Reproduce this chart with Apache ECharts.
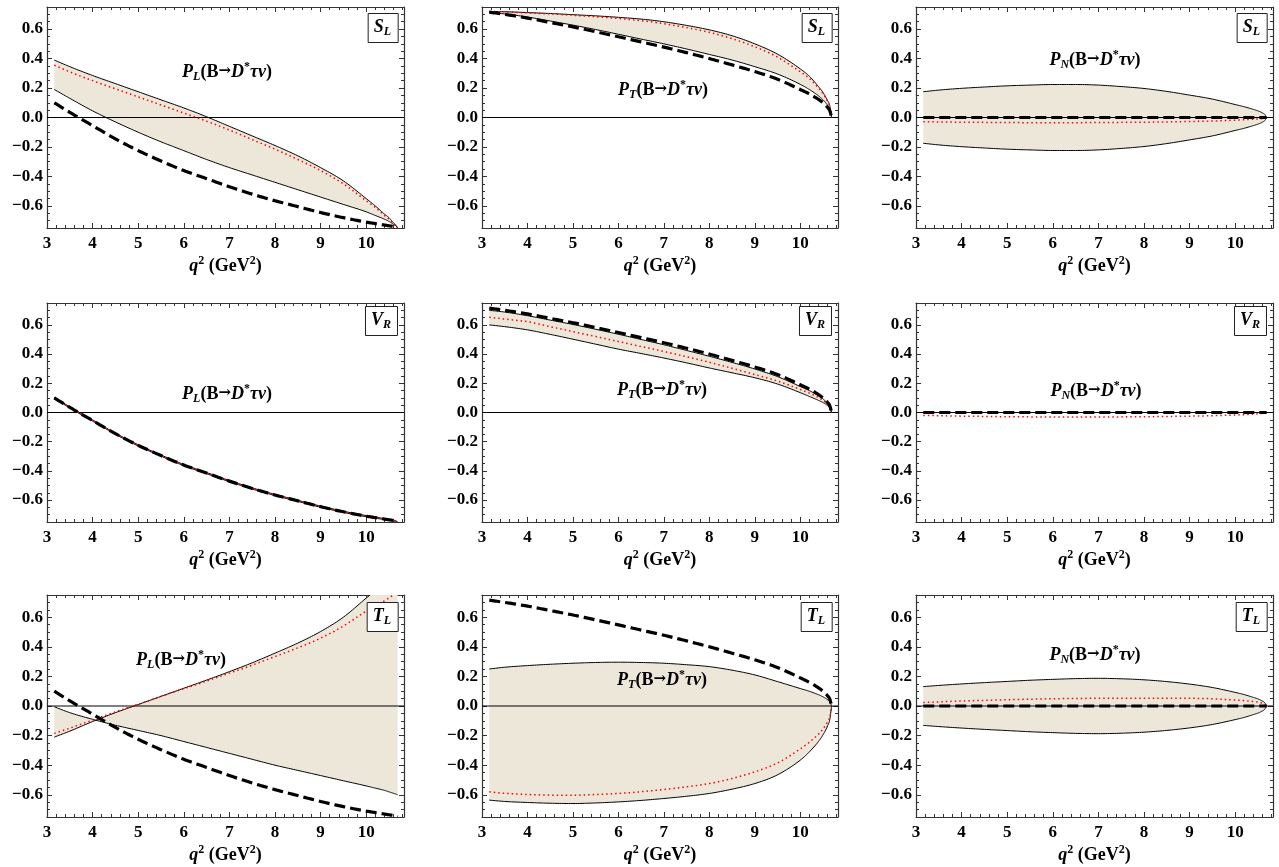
<!DOCTYPE html>
<html><head><meta charset="utf-8">
<script src="https://cdn.jsdelivr.net/npm/echarts@6/dist/echarts.min.js"></script>
<style>html,body{margin:0;padding:0;background:#fff}#c{width:1279px;height:867px}</style>
</head><body><div id="c"></div>
<script>
// ---------------- data ----------------
const q2 = [3.16, 3.5, 4, 4.5, 5, 5.5, 6, 6.5, 7, 7.5, 8, 8.5, 9, 9.5, 10, 10.2, 10.4, 10.5, 10.6, 10.65, 10.69];
const xTicks = [3, 4, 5, 6, 7, 8, 9, 10];
const yTicks = [-0.6, -0.4, -0.2, 0.0, 0.2, 0.4, 0.6];

// Standard-model curves (thick dashed)
const smPL = [0.10, 0.035, -0.055, -0.145, -0.225, -0.295, -0.36, -0.415, -0.47, -0.52, -0.565, -0.605, -0.645, -0.68, -0.71, -0.72, -0.73, -0.735, -0.74, -0.745, -0.75];
const smPT = [0.715, 0.70, 0.675, 0.645, 0.615, 0.582, 0.548, 0.513, 0.478, 0.44, 0.40, 0.357, 0.312, 0.26, 0.19, 0.16, 0.123, 0.10, 0.069, 0.046, 0.0];
const smPN = [0, 0, 0, 0, 0, 0, 0, 0, 0, 0, 0, 0, 0, 0, 0, 0, 0, 0, 0, 0, 0];

// S_L coupling
const slPLUpper = [0.39, 0.345, 0.285, 0.23, 0.175, 0.12, 0.065, 0.005, -0.06, -0.125, -0.19, -0.26, -0.34, -0.43, -0.55, -0.60, -0.655, -0.68, -0.715, -0.73, -0.75];
const slPLLower = [0.19, 0.13, 0.045, -0.03, -0.10, -0.165, -0.225, -0.285, -0.34, -0.39, -0.44, -0.49, -0.54, -0.59, -0.64, -0.665, -0.69, -0.705, -0.725, -0.735, -0.75];
const slPLCentral = [0.355, 0.31, 0.25, 0.195, 0.14, 0.085, 0.03, -0.025, -0.085, -0.15, -0.215, -0.285, -0.36, -0.45, -0.565, -0.61, -0.665, -0.69, -0.72, -0.735, -0.75];

const slPTUpper = [0.72, 0.718, 0.712, 0.706, 0.698, 0.69, 0.68, 0.668, 0.65, 0.625, 0.595, 0.555, 0.50, 0.43, 0.33, 0.28, 0.21, 0.17, 0.115, 0.08, 0.0];
const slPTLower = [0.712, 0.703, 0.682, 0.655, 0.627, 0.597, 0.565, 0.532, 0.50, 0.465, 0.428, 0.39, 0.345, 0.295, 0.225, 0.19, 0.147, 0.12, 0.083, 0.056, 0.0];
const slPTCentral = [0.72, 0.717, 0.71, 0.703, 0.694, 0.684, 0.672, 0.657, 0.637, 0.61, 0.578, 0.535, 0.48, 0.41, 0.31, 0.265, 0.20, 0.162, 0.11, 0.075, 0.0];

const slPNUpper = [0.175, 0.186, 0.198, 0.207, 0.215, 0.22, 0.224, 0.224, 0.22, 0.21, 0.197, 0.177, 0.152, 0.125, 0.088, 0.073, 0.055, 0.045, 0.031, 0.021, 0.0];
const slPNLower = [-0.175, -0.186, -0.198, -0.207, -0.215, -0.22, -0.224, -0.224, -0.22, -0.21, -0.197, -0.177, -0.152, -0.125, -0.088, -0.073, -0.055, -0.045, -0.031, -0.021, 0.0];
const slPNCentral = [-0.028, -0.03, -0.032, -0.033, -0.034, -0.035, -0.035, -0.035, -0.034, -0.033, -0.032, -0.03, -0.027, -0.024, -0.018, -0.015, -0.012, -0.01, -0.007, -0.004, 0.0];

// V_R coupling
const vrPLUpper = [0.104, 0.039, -0.051, -0.141, -0.221, -0.291, -0.356, -0.411, -0.466, -0.516, -0.561, -0.601, -0.641, -0.676, -0.706, -0.716, -0.727, -0.732, -0.737, -0.742, -0.747];
const vrPLLower = [0.096, 0.031, -0.059, -0.149, -0.229, -0.299, -0.364, -0.419, -0.474, -0.524, -0.569, -0.609, -0.649, -0.684, -0.714, -0.724, -0.733, -0.738, -0.743, -0.748, -0.753];
const vrPLCentral = [0.10, 0.035, -0.055, -0.145, -0.225, -0.295, -0.36, -0.415, -0.47, -0.52, -0.565, -0.605, -0.645, -0.68, -0.71, -0.72, -0.73, -0.735, -0.74, -0.745, -0.75];

const vrPTUpper = [0.70, 0.688, 0.663, 0.633, 0.603, 0.57, 0.536, 0.50, 0.464, 0.425, 0.385, 0.343, 0.298, 0.246, 0.178, 0.15, 0.115, 0.093, 0.064, 0.043, 0.0];
const vrPTLower = [0.60, 0.588, 0.566, 0.535, 0.502, 0.468, 0.434, 0.404, 0.373, 0.34, 0.305, 0.272, 0.238, 0.195, 0.136, 0.11, 0.083, 0.068, 0.047, 0.031, 0.0];
const vrPTCentral = [0.652, 0.64, 0.622, 0.588, 0.554, 0.52, 0.486, 0.452, 0.418, 0.382, 0.344, 0.303, 0.26, 0.215, 0.158, 0.133, 0.102, 0.083, 0.057, 0.038, 0.0];

const vrPNUpper = [0, 0, 0, 0, 0, 0, 0, 0, 0, 0, 0, 0, 0, 0, 0, 0, 0, 0, 0, 0, 0];
const vrPNLower = [0, 0, 0, 0, 0, 0, 0, 0, 0, 0, 0, 0, 0, 0, 0, 0, 0, 0, 0, 0, 0];
const vrPNCentral = [-0.02, -0.022, -0.025, -0.027, -0.029, -0.03, -0.031, -0.031, -0.031, -0.03, -0.029, -0.027, -0.025, -0.022, -0.017, -0.015, -0.011, -0.009, -0.006, -0.004, 0.0];

// T_L coupling
const tlPLUpper = [-0.21, -0.17, -0.105, -0.045, 0.01, 0.065, 0.12, 0.175, 0.232, 0.292, 0.357, 0.425, 0.503, 0.60, 0.729, 0.78, 0.84, 0.87, 0.90, 0.92, 0.93];
const tlPLLower = [-0.005, -0.045, -0.09, -0.13, -0.165, -0.20, -0.24, -0.28, -0.32, -0.36, -0.40, -0.435, -0.47, -0.505, -0.54, -0.555, -0.57, -0.58, -0.59, -0.595, -0.60];
const tlPLCentral = [-0.185, -0.15, -0.095, -0.04, 0.012, 0.065, 0.117, 0.168, 0.222, 0.276, 0.334, 0.393, 0.458, 0.54, 0.64, 0.675, 0.71, 0.73, 0.75, 0.76, 0.77];

const tlPTUpper = [0.25, 0.262, 0.273, 0.282, 0.289, 0.294, 0.296, 0.294, 0.289, 0.279, 0.266, 0.242, 0.21, 0.165, 0.118, 0.0995, 0.0765, 0.062, 0.0426, 0.0284, 0.0];
const tlPTLower = [-0.636, -0.645, -0.652, -0.657, -0.659, -0.655, -0.648, -0.638, -0.625, -0.61, -0.591, -0.562, -0.524, -0.465, -0.366, -0.31, -0.24, -0.195, -0.135, -0.09, 0.0];
const tlPTCentral = [-0.58, -0.59, -0.598, -0.602, -0.603, -0.598, -0.591, -0.579, -0.564, -0.546, -0.524, -0.49, -0.445, -0.385, -0.29, -0.245, -0.19, -0.155, -0.107, -0.072, 0.0];

const tlPNUpper = [0.131, 0.139, 0.149, 0.158, 0.166, 0.174, 0.18, 0.185, 0.187, 0.184, 0.177, 0.165, 0.148, 0.125, 0.092, 0.077, 0.058, 0.048, 0.033, 0.022, 0.0];
const tlPNLower = [-0.131, -0.139, -0.149, -0.158, -0.166, -0.174, -0.18, -0.185, -0.187, -0.184, -0.177, -0.165, -0.148, -0.125, -0.092, -0.077, -0.058, -0.048, -0.033, -0.022, 0.0];
const tlPNCentral = [0.023, 0.028, 0.034, 0.038, 0.042, 0.046, 0.049, 0.051, 0.052, 0.053, 0.053, 0.053, 0.052, 0.049, 0.04, 0.036, 0.03, 0.026, 0.019, 0.013, 0.0];

const couplings = [['S', 'L'], ['V', 'R'], ['T', 'L']];
const observables = ['L', 'T', 'N'];

const panels = [
  { upper: slPLUpper, lower: slPLLower, central: slPLCentral, sm: smPL },
  { upper: slPTUpper, lower: slPTLower, central: slPTCentral, sm: smPT },
  { upper: slPNUpper, lower: slPNLower, central: slPNCentral, sm: smPN },
  { upper: vrPLUpper, lower: vrPLLower, central: vrPLCentral, sm: smPL },
  { upper: vrPTUpper, lower: vrPTLower, central: vrPTCentral, sm: smPT },
  { upper: vrPNUpper, lower: vrPNLower, central: vrPNCentral, sm: smPN },
  { upper: tlPLUpper, lower: tlPLLower, central: tlPLCentral, sm: smPL },
  { upper: tlPTUpper, lower: tlPTLower, central: tlPTCentral, sm: smPT },
  { upper: tlPNUpper, lower: tlPNLower, central: tlPNCentral, sm: smPN }
];

// ---------------- layout / style ----------------
const W = 1279;
const cols = [{ left: 47, width: 357 }, { left: 482, width: 356 }, { left: 916, width: 357 }];
const rows = [{ top: 7, height: 221 }, { top: 303, height: 219 }, { top: 595, height: 222 }];
const labelPos = [[227, 72], [663, 90], [1095, 60], [227, 394], [662, 390], [1096, 391], [181, 660], [662, 680], [1095, 655]];
const boxTopOffset = [5, 2, 6];
const XMIN = 3, XMAX = 10.83, YMIN = -0.75, YMAX = 0.75;
const FONT = '"Liberation Serif", "Times New Roman", serif';
const FILL = '#ece7d9';
const AX = '#333';

const mkRich = (big, small, lh) => ({
  b: { fontFamily: FONT, fontWeight: 'bold', fontSize: big, lineHeight: lh, color: '#000', verticalAlign: 'middle' },
  i: { fontFamily: FONT, fontWeight: 'bold', fontStyle: 'italic', fontSize: big, lineHeight: lh, color: '#000', verticalAlign: 'middle' },
  ar: { fontFamily: '"DejaVu Serif", serif', fontWeight: 'bold', fontSize: big - 3, lineHeight: lh, color: '#000', verticalAlign: 'middle', padding: [0, 0, 1, 0] },
  sub: { fontFamily: FONT, fontWeight: 'bold', fontStyle: 'italic', fontSize: small, lineHeight: small, color: '#000', verticalAlign: 'bottom' },
  sup: { fontFamily: FONT, fontWeight: 'bold', fontSize: small, lineHeight: small, color: '#000', verticalAlign: 'top' }
});
const richLabel = mkRich(18, 12, 22);
const richName = mkRich(18, 12, 22);
const richBox = {
  bi: { fontFamily: FONT, fontWeight: 'bold', fontStyle: 'italic', fontSize: 18, lineHeight: 21, color: '#000', verticalAlign: 'middle' },
  sub: { fontFamily: FONT, fontWeight: 'bold', fontStyle: 'italic', fontSize: 12, lineHeight: 12, color: '#000', verticalAlign: 'bottom' }
};

const fmtY = v => (v < -1e-9 ? '\u2212' : '') + Math.abs(v).toFixed(1);

// monotone cubic (Fritsch-Carlson) smoothing of already-projected pixel points
function smoothPix(P, n) {
  const N = P.length;
  if (N < 3) return P;
  const d = [], m = new Array(N);
  for (let k = 0; k < N - 1; k++) {
    const dx = P[k + 1][0] - P[k][0];
    d.push(dx === 0 ? 0 : (P[k + 1][1] - P[k][1]) / dx);
  }
  m[0] = d[0]; m[N - 1] = d[N - 2];
  for (let k = 1; k < N - 1; k++) m[k] = (d[k - 1] * d[k] <= 0) ? 0 : (d[k - 1] + d[k]) / 2;
  for (let k = 0; k < N - 1; k++) {
    if (d[k] === 0) { m[k] = 0; m[k + 1] = 0; continue; }
    const a = m[k] / d[k], b = m[k + 1] / d[k], s = a * a + b * b;
    if (s > 9) { const t = 3 / Math.sqrt(s); m[k] = t * a * d[k]; m[k + 1] = t * b * d[k]; }
  }
  const out = [P[0]];
  for (let k = 0; k < N - 1; k++) {
    const x0 = P[k][0], x1 = P[k + 1][0], y0 = P[k][1], y1 = P[k + 1][1], h = x1 - x0;
    for (let j = 1; j <= n; j++) {
      const t = j / n, t2 = t * t, t3 = t2 * t;
      const h00 = 2 * t3 - 3 * t2 + 1, h10 = t3 - 2 * t2 + t, h01 = -2 * t3 + 3 * t2, h11 = t3 - t2;
      out.push([x0 + h * t, h00 * y0 + h10 * h * m[k] + h01 * y1 + h11 * h * m[k + 1]]);
    }
  }
  return out;
}

const grid = [], xAxis = [], yAxis = [], series = [], title = [];

panels.forEach((p, i) => {
  const r = Math.floor(i / 3), c = i % 3;
  const g = { left: cols[c].left, top: rows[r].top, width: cols[c].width, height: rows[r].height };
  grid.push(g);

  const baseX = { gridIndex: i, type: 'value', min: XMIN, max: XMAX, splitLine: { show: false } };
  const baseY = { gridIndex: i, type: 'value', min: YMIN, max: YMAX, splitLine: { show: false } };
  xAxis.push(Object.assign({}, baseX, {
    position: 'bottom', interval: 1,
    axisLine: { show: true, onZero: false, lineStyle: { color: AX, width: 1.2 } },
    axisTick: { show: true, inside: true, length: 5, lineStyle: { color: AX, width: 1 } },
    axisLabel: { show: true, margin: 7, showMaxLabel: false, showMinLabel: true, fontFamily: FONT, fontWeight: 'bold', fontSize: 17, color: '#000' },
    name: '{i|q}{sup|2}{b| (GeV}{sup|2}{b|)}', nameLocation: 'middle', nameGap: 27,
    nameTextStyle: { rich: richName }
  }));
  xAxis.push(Object.assign({}, baseX, {
    position: 'bottom', interval: 0.2,
    axisLine: { show: false, onZero: false },
    axisTick: { show: true, inside: true, length: 3, lineStyle: { color: AX, width: 1 } },
    axisLabel: { show: false }
  }));
  xAxis.push(Object.assign({}, baseX, {
    position: 'top', interval: 1,
    axisLine: { show: true, onZero: false, lineStyle: { color: AX, width: 1.2 } },
    axisTick: { show: true, inside: true, length: 5, lineStyle: { color: AX, width: 1 } },
    axisLabel: { show: false }
  }));
  xAxis.push(Object.assign({}, baseX, {
    position: 'top', interval: 0.2,
    axisLine: { show: false, onZero: false },
    axisTick: { show: true, inside: true, length: 3, lineStyle: { color: AX, width: 1 } },
    axisLabel: { show: false }
  }));
  yAxis.push(Object.assign({}, baseY, {
    position: 'left',
    axisLine: { show: true, onZero: false, lineStyle: { color: AX, width: 1.2 } },
    axisTick: { show: true, inside: true, length: 5, customValues: yTicks, lineStyle: { color: AX, width: 1 } },
    axisLabel: { show: true, margin: 4, customValues: yTicks, formatter: fmtY, fontFamily: FONT, fontWeight: 'bold', fontSize: 17, color: '#000' }
  }));
  yAxis.push(Object.assign({}, baseY, {
    position: 'left', interval: 0.05,
    axisLine: { show: false, onZero: false },
    axisTick: { show: true, inside: true, length: 3, lineStyle: { color: AX, width: 1 } },
    axisLabel: { show: false }
  }));
  yAxis.push(Object.assign({}, baseY, {
    position: 'right',
    axisLine: { show: true, onZero: false, lineStyle: { color: AX, width: 1.2 } },
    axisTick: { show: true, inside: true, length: 5, customValues: yTicks, lineStyle: { color: AX, width: 1 } },
    axisLabel: { show: false }
  }));
  yAxis.push(Object.assign({}, baseY, {
    position: 'right', interval: 0.05,
    axisLine: { show: false, onZero: false },
    axisTick: { show: true, inside: true, length: 3, lineStyle: { color: AX, width: 1 } },
    axisLabel: { show: false }
  }));

  const xi = i * 4, yi = i * 4;
  series.push({
    type: 'custom', xAxisIndex: xi, yAxisIndex: yi, coordinateSystem: 'cartesian2d',
    data: [[XMIN, 0]], encode: { x: 0, y: 1 }, silent: true, animation: false, clip: true, z: 2,
    renderItem: (params, api) => {
      const cs = params.coordSys;
      const proj = ys => q2.map((x, k) => api.coord([x, ys[k]]));
      const up = smoothPix(proj(p.upper), 10);
      const lo = smoothPix(proj(p.lower), 10);
      const cen = smoothPix(proj(p.central), 10);
      const sm = smoothPix(proj(p.sm), 10);
      const za = api.coord([XMIN, 0]), zb = api.coord([XMAX, 0]);
      return {
        type: 'group',
        clipPath: { type: 'rect', shape: { x: cs.x, y: cs.y, width: cs.width, height: cs.height } },
        children: [
          { type: 'polygon', shape: { points: up.concat(lo.slice().reverse()) }, style: { fill: FILL, stroke: 'none' } },
          { type: 'line', shape: { x1: za[0], y1: za[1], x2: zb[0], y2: zb[1] }, style: { stroke: '#000', lineWidth: 1 } },
          { type: 'polyline', shape: { points: up }, style: { fill: 'none', stroke: '#000', lineWidth: 1 } },
          { type: 'polyline', shape: { points: lo }, style: { fill: 'none', stroke: '#000', lineWidth: 1 } },
          { type: 'polyline', shape: { points: cen }, style: { fill: 'none', stroke: '#ff0000', lineWidth: 1.5, lineDash: [1.5, 3] } },
          { type: 'polyline', shape: { points: sm }, style: { fill: 'none', stroke: '#000', lineWidth: 3.2, lineDash: [11, 5] } }
        ]
      };
    }
  });

  const obs = observables[c];
  title.push({
    left: labelPos[i][0], top: labelPos[i][1] - 11, textAlign: 'center', padding: 0,
    text: '{i|P}{sub|' + obs + '}{b|(B}{ar|\u2192}{i|D}{sup|*}{i|\u03C4\u03BD}{b|)}',
    textStyle: { rich: richLabel }
  });
  const plotRight = g.left + g.width;
  title.push({
    right: W - (plotRight - 6), top: g.top + boxTopOffset[r],
    text: '{bi|' + couplings[r][0] + '}{sub|' + couplings[r][1] + '}',
    textStyle: { rich: richBox },
    padding: [5, 7, 5, 6], borderColor: '#222', borderWidth: 1, backgroundColor: '#fff'
  });
});

const chart = echarts.init(document.getElementById('c'), null, { renderer: 'canvas' });
chart.setOption({ animation: false, backgroundColor: '#fff', grid, xAxis, yAxis, series, title });
</script>
</body></html>
